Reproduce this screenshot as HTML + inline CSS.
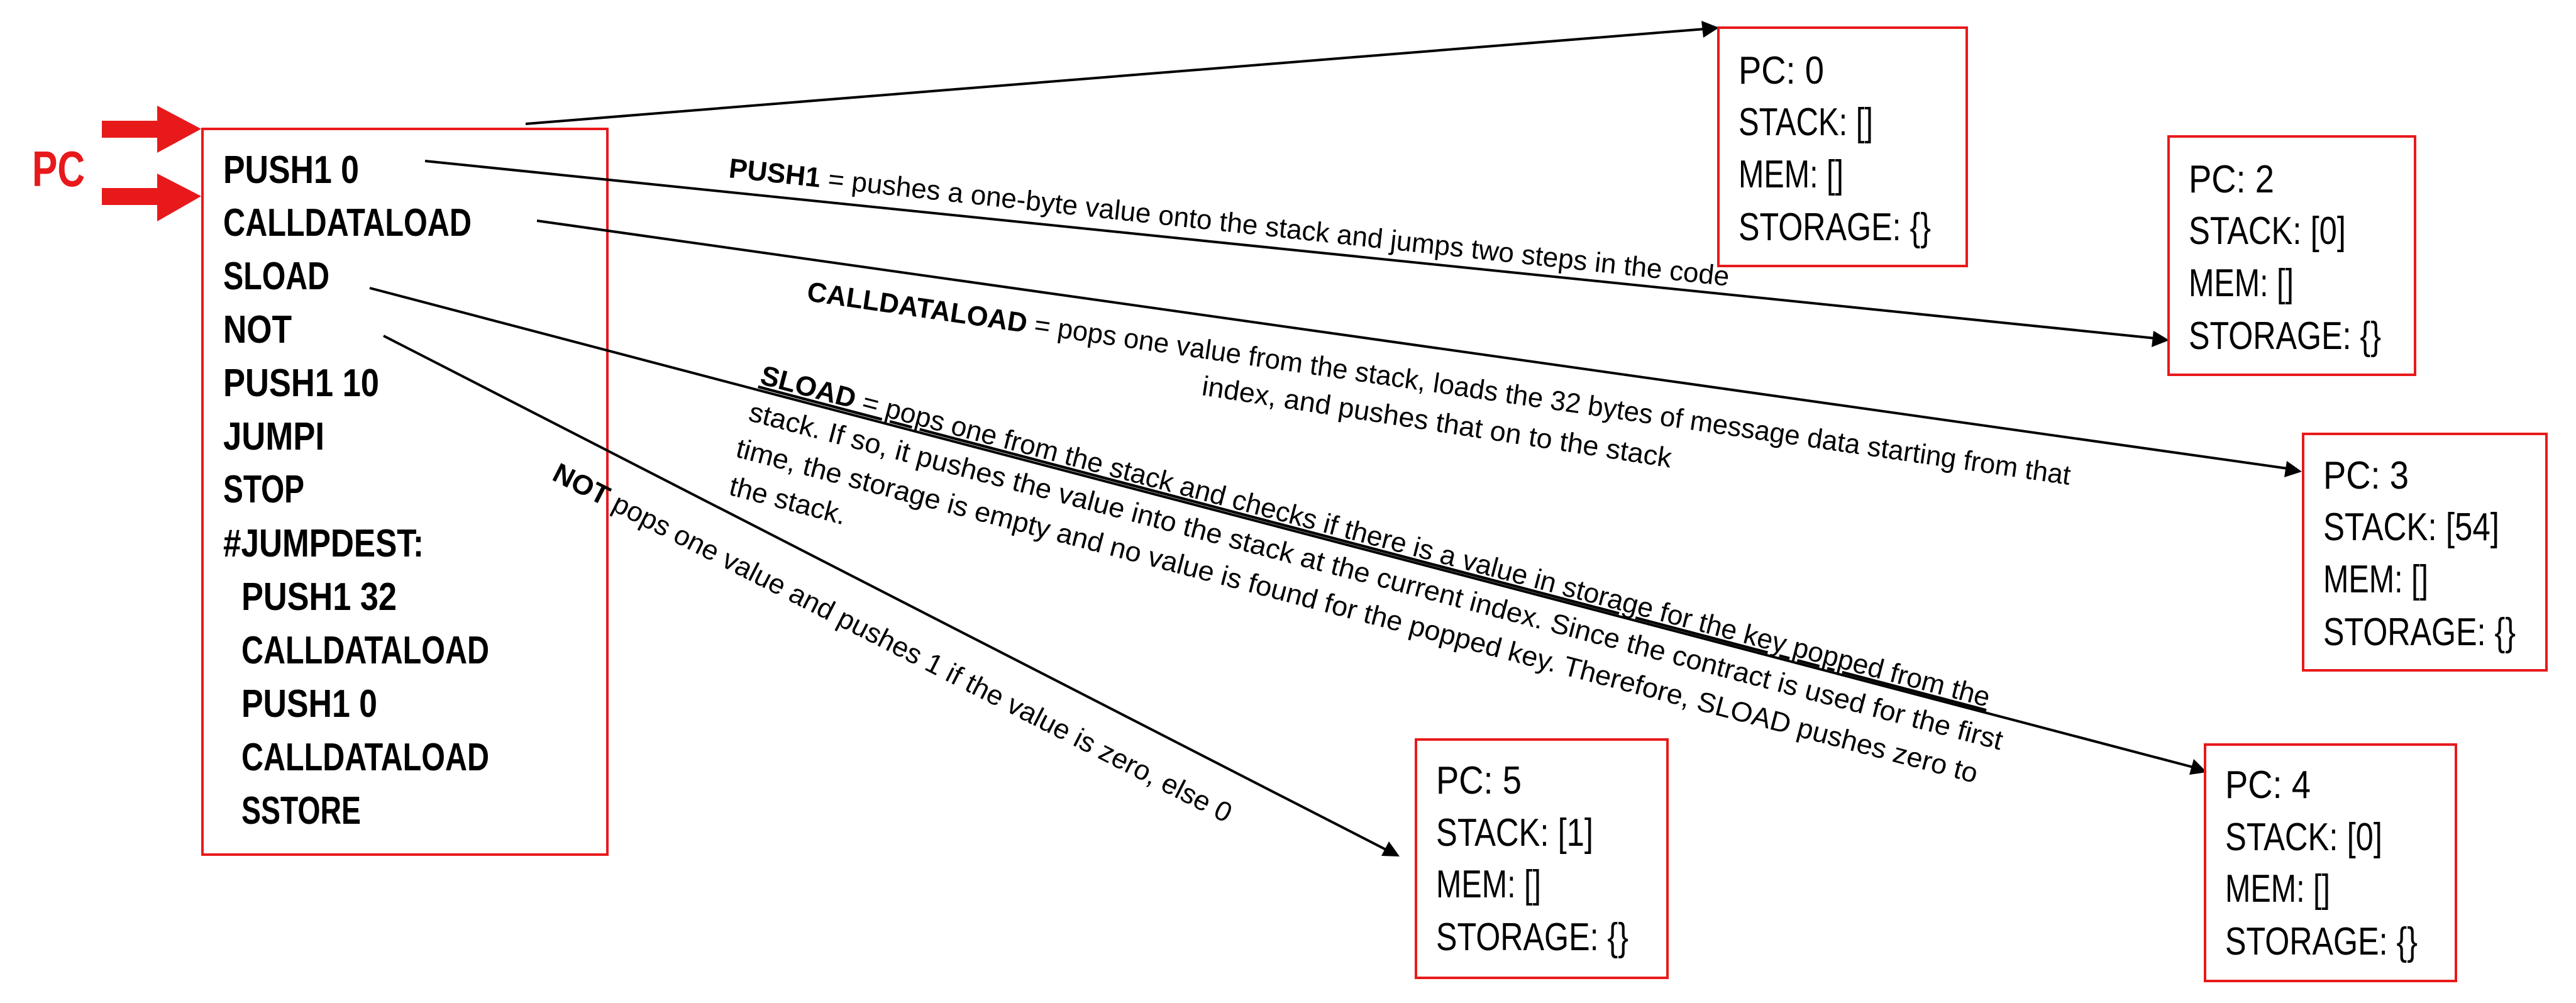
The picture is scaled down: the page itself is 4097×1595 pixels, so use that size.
<!DOCTYPE html>
<html><head><meta charset="utf-8"><style>
html,body{margin:0;padding:0;background:#fff;}
svg{display:block;}
text{font-family:"Liberation Sans",sans-serif;}
.c{font-weight:bold;font-size:62px;fill:#000;}
.s{font-size:62px;fill:#000;}
.a{font-size:44px;fill:#000;}
</style></head><body>
<svg width="4097" height="1595" viewBox="0 0 4097 1595" xmlns="http://www.w3.org/2000/svg">
<!-- PC label & red arrows -->
<text x="51" y="296" font-size="80" font-weight="bold" fill="#e8191b" textLength="84" lengthAdjust="spacingAndGlyphs">PC</text>
<rect x="162" y="192" width="90" height="27" fill="#e8191b"/>
<polygon points="250,168 320,205 250,243" fill="#e8191b"/>
<rect x="162" y="299" width="90" height="27" fill="#e8191b"/>
<polygon points="250,276 320,312 250,352" fill="#e8191b"/>
<!-- code box -->
<rect x="322" y="205" width="644" height="1154" fill="none" stroke="#e8191b" stroke-width="4"/>
<text class="c" x="355" y="291" textLength="216" lengthAdjust="spacingAndGlyphs">PUSH1 0</text>
<text class="c" x="355" y="375" textLength="395" lengthAdjust="spacingAndGlyphs">CALLDATALOAD</text>
<text class="c" x="355" y="460" textLength="169" lengthAdjust="spacingAndGlyphs">SLOAD</text>
<text class="c" x="355" y="545" textLength="109" lengthAdjust="spacingAndGlyphs">NOT</text>
<text class="c" x="355" y="630" textLength="248" lengthAdjust="spacingAndGlyphs">PUSH1 10</text>
<text class="c" x="355" y="715" textLength="161" lengthAdjust="spacingAndGlyphs">JUMPI</text>
<text class="c" x="355" y="799" textLength="129" lengthAdjust="spacingAndGlyphs">STOP</text>
<text class="c" x="355" y="885" textLength="319" lengthAdjust="spacingAndGlyphs">#JUMPDEST:</text>
<text class="c" x="384" y="970" textLength="247" lengthAdjust="spacingAndGlyphs">PUSH1 32</text>
<text class="c" x="384" y="1055" textLength="394" lengthAdjust="spacingAndGlyphs">CALLDATALOAD</text>
<text class="c" x="384" y="1140" textLength="216" lengthAdjust="spacingAndGlyphs">PUSH1 0</text>
<text class="c" x="384" y="1225" textLength="394" lengthAdjust="spacingAndGlyphs">CALLDATALOAD</text>
<text class="c" x="384" y="1310" textLength="190" lengthAdjust="spacingAndGlyphs">SSTORE</text>

<!-- connectors -->
<g stroke="#000" stroke-width="4" fill="none">
<line x1="836" y1="197" x2="2712" y2="46"/>
<line x1="676" y1="256" x2="3428" y2="538"/>
<line x1="854" y1="351" x2="3638" y2="745"/>
<line x1="588" y1="458" x2="3488" y2="1220"/>
<line x1="610" y1="534" x2="2206" y2="1352"/>
</g>
<g fill="#000">
<polygon points="2734,44 2706,33 2709,60"/>
<polygon points="3450,541 3425,526 3422,552"/>
<polygon points="3661,750 3637,733 3633,759"/>
<polygon points="3510,1228 3489,1207 3482,1232"/>
<polygon points="2226,1362 2209,1338 2197,1361"/>
</g>

<!-- annotations -->
<g transform="translate(1158,282) rotate(6.2)">
<text class="a" x="0" y="0" textLength="1600" lengthAdjust="spacingAndGlyphs"><tspan font-weight="bold">PUSH1</tspan> = pushes a one-byte value onto the stack and jumps two steps in the code</text>
</g>
<g transform="translate(1282,478) rotate(8.3)">
<text class="a" x="0" y="0" textLength="2030" lengthAdjust="spacingAndGlyphs"><tspan font-weight="bold">CALLDATALOAD</tspan> = pops one value from the stack, loads the 32 bytes of message data starting from that</text>
</g>
<g transform="translate(1910,628) rotate(8.8)">
<text class="a" x="0" y="0" textLength="755" lengthAdjust="spacingAndGlyphs">index, and pushes that on to the stack</text>
</g>
<g transform="translate(1207,610) rotate(14.75)">
<text class="a" x="0" y="0" textLength="2020" lengthAdjust="spacingAndGlyphs"><tspan font-weight="bold" text-decoration="underline">SLOAD</tspan><tspan text-decoration="underline"> = pops one from the stack and checks if there is a value in storage for the key popped from the</tspan></text>
<text class="a" x="-3" y="61" textLength="2060" lengthAdjust="spacingAndGlyphs">stack. If so, it pushes the value into the stack at the current index. Since the contract is used for the first</text>
<text class="a" x="-8" y="122" textLength="2040" lengthAdjust="spacingAndGlyphs">time, the storage is empty and no value is found for the popped key. Therefore, SLOAD pushes zero to</text>
<text class="a" x="-3" y="183" textLength="190" lengthAdjust="spacingAndGlyphs">the stack.</text>
</g>
<g transform="translate(876,762) rotate(27)">
<text class="a" x="0" y="0" textLength="1205" lengthAdjust="spacingAndGlyphs"><tspan font-weight="bold">NOT</tspan> pops one value and pushes 1 if the value is zero, else 0</text>
</g>

<!-- state boxes -->
<g fill="none" stroke="#e8191b" stroke-width="4">
<rect x="2733" y="44" width="395" height="379"/>
<rect x="3449" y="217" width="392" height="379"/>
<rect x="3663" y="690" width="387" height="376"/>
<rect x="3507" y="1184" width="399" height="376"/>
<rect x="2252" y="1176" width="400" height="379"/>
</g>
<g>
<text class="s" x="2765" y="133" textLength="136" lengthAdjust="spacingAndGlyphs">PC: 0</text>
<text class="s" x="2765" y="215" textLength="214" lengthAdjust="spacingAndGlyphs">STACK: []</text>
<text class="s" x="2765" y="298" textLength="167" lengthAdjust="spacingAndGlyphs">MEM: []</text>
<text class="s" x="2765" y="382" textLength="306" lengthAdjust="spacingAndGlyphs">STORAGE: {}</text>

<text class="s" x="3481" y="306" textLength="136" lengthAdjust="spacingAndGlyphs">PC: 2</text>
<text class="s" x="3481" y="388" textLength="250" lengthAdjust="spacingAndGlyphs">STACK: [0]</text>
<text class="s" x="3481" y="471" textLength="167" lengthAdjust="spacingAndGlyphs">MEM: []</text>
<text class="s" x="3481" y="555" textLength="306" lengthAdjust="spacingAndGlyphs">STORAGE: {}</text>

<text class="s" x="3695" y="777" textLength="136" lengthAdjust="spacingAndGlyphs">PC: 3</text>
<text class="s" x="3695" y="859" textLength="280" lengthAdjust="spacingAndGlyphs">STACK: [54]</text>
<text class="s" x="3695" y="942" textLength="167" lengthAdjust="spacingAndGlyphs">MEM: []</text>
<text class="s" x="3695" y="1026" textLength="306" lengthAdjust="spacingAndGlyphs">STORAGE: {}</text>

<text class="s" x="3539" y="1269" textLength="136" lengthAdjust="spacingAndGlyphs">PC: 4</text>
<text class="s" x="3539" y="1352" textLength="250" lengthAdjust="spacingAndGlyphs">STACK: [0]</text>
<text class="s" x="3539" y="1434" textLength="167" lengthAdjust="spacingAndGlyphs">MEM: []</text>
<text class="s" x="3539" y="1518" textLength="306" lengthAdjust="spacingAndGlyphs">STORAGE: {}</text>

<text class="s" x="2284" y="1262" textLength="136" lengthAdjust="spacingAndGlyphs">PC: 5</text>
<text class="s" x="2284" y="1345" textLength="250" lengthAdjust="spacingAndGlyphs">STACK: [1]</text>
<text class="s" x="2284" y="1427" textLength="167" lengthAdjust="spacingAndGlyphs">MEM: []</text>
<text class="s" x="2284" y="1511" textLength="306" lengthAdjust="spacingAndGlyphs">STORAGE: {}</text>
</g>
</svg>
</body></html>
